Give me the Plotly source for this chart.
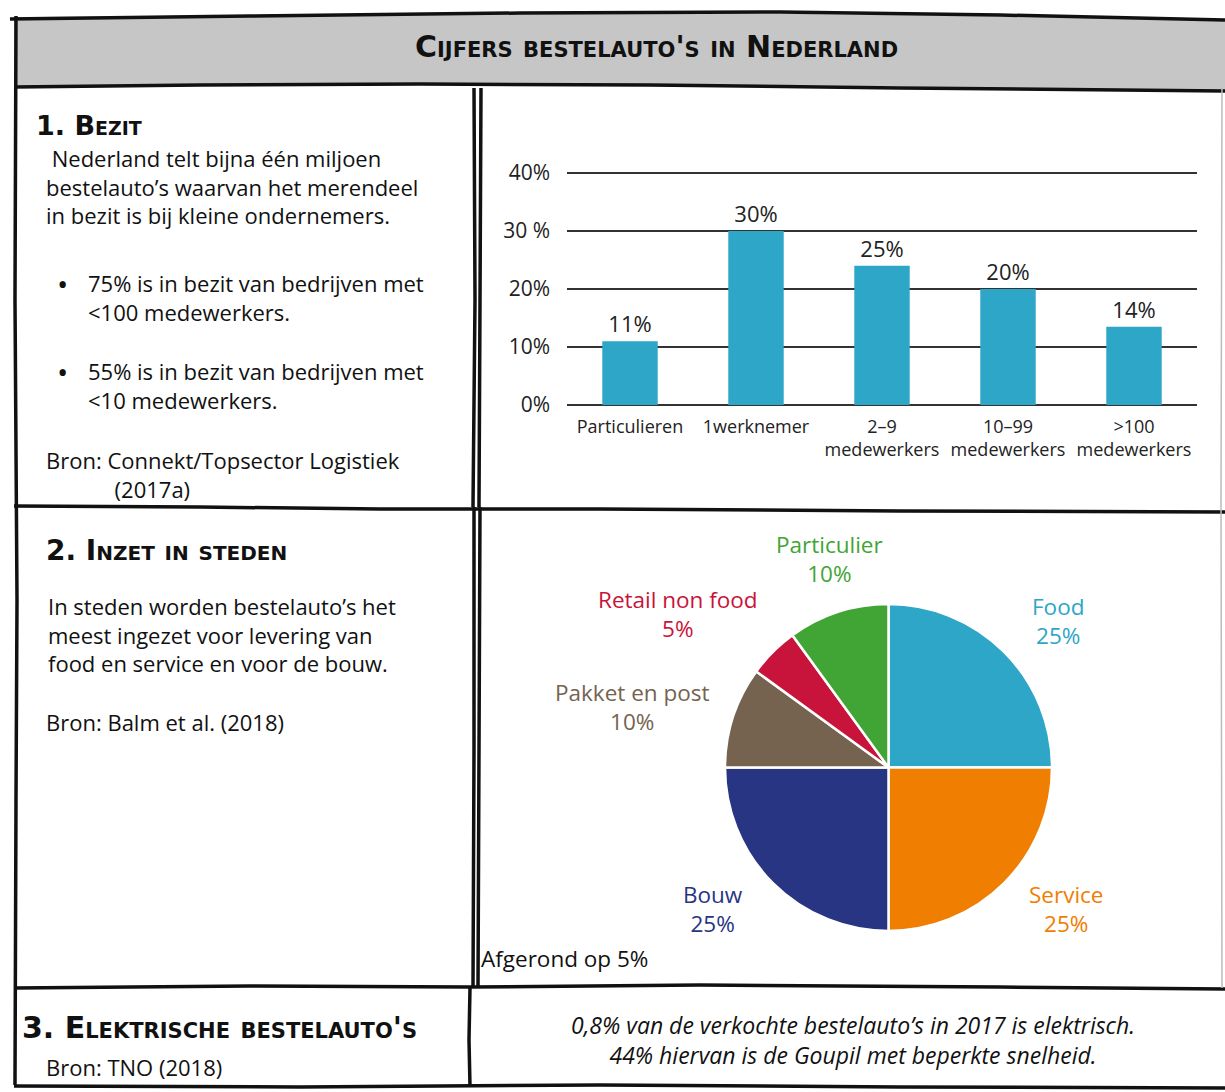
import plotly.graph_objects as go

W, H = 1225, 1092

# ---------------- data ----------------
bar_categories = ["Particulieren", "1werknemer", "2–9<br>medewerkers", "10–99<br>medewerkers", ">100<br>medewerkers"]
bar_values = [11, 30, 24, 20, 13.5]
bar_labels = ["11%", "30%", "25%", "20%", "14%"]
y_tickvals = [0, 10, 20, 30, 40]
y_ticktext = ["0%", "10%", "20%", "30 %", "40%"]

pie_labels = ["Food", "Service", "Bouw", "Pakket en post", "Retail non food", "Particulier"]
pie_values = [25, 25, 25, 10, 5, 10]
pie_colors = ["#2DA6C7", "#F07E00", "#283583", "#756350", "#C8133A", "#41A535"]

# ---------------- helpers (pixel -> paper) ----------------
def px(x):
    return x / W

def py(y):
    return 1 - y / H

def path(points):
    s = "M {:.5f},{:.5f}".format(px(points[0][0]), py(points[0][1]))
    for (x, y) in points[1:]:
        s += " L {:.5f},{:.5f}".format(px(x), py(y))
    return s

BODY = "Open Sans"
fig = go.Figure()

fig.add_trace(go.Bar(
    x=bar_categories, y=bar_values, text=bar_labels,
    textposition="outside", cliponaxis=False,
    textfont=dict(family=BODY, size=22, color="#222"),
    marker=dict(color="#2DA6C7", line=dict(width=0)),
    xaxis="x", yaxis="y", showlegend=False, hoverinfo="skip",
))

fig.add_trace(go.Pie(
    labels=pie_labels, values=pie_values, sort=False, direction="clockwise",
    rotation=0, textinfo="none", showlegend=False,
    marker=dict(colors=pie_colors, line=dict(color="white", width=2.5)),
    domain=dict(x=[px(725), px(1052)], y=[py(931), py(604)]),
))

shapes = []
# title bar fill
shapes.append(dict(type="path", xref="paper", yref="paper",
                   path=path([(14, 17), (300, 15), (600, 12), (900, 15), (1225, 19),
                              (1225, 90), (1000, 88), (700, 84), (400, 85), (14, 87)]) + " Z",
                   fillcolor="#C6C6C6", line=dict(width=0), layer="below"))

lines = [
    # title top and bottom
    [(10, 19), (250, 16), (520, 13), (780, 12), (1000, 15), (1225, 20)],
    [(14, 87), (200, 85), (420, 84), (650, 85), (900, 88), (1225, 91)],
    # left edge
    [(16, 16), (15, 300), (17, 600), (16, 800), (15, 1085)],
    # row dividers
    [(14, 506), (200, 507), (380, 509), (600, 509), (900, 511), (1225, 512)],
    [(14, 988), (250, 986), (470, 987), (700, 985), (1000, 987), (1225, 989)],
    # bottom
    [(14, 1086), (300, 1087), (600, 1085), (900, 1087), (1225, 1088)],
    # vertical dividers
    [(474, 88), (475, 300), (473, 507)],
    [(481, 88), (480, 300), (479, 507)],
    [(474, 507), (474, 750), (473, 988)],
    [(480, 507), (479, 750), (478, 988)],
    [(470, 988), (469, 1040), (470, 1086)],
]
for pts in lines:
    shapes.append(dict(type="path", xref="paper", yref="paper", path=path(pts),
                       line=dict(color="#111", width=3.5)))
shapes.append(dict(type="path", xref="paper", yref="paper",
                   path=path([(1222, 88), (1221, 500), (1222, 988)]),
                   line=dict(color="#BBBBBB", width=1.5)))

ann = []

def text(x, y, s, size=22, color="#111", family=BODY, xanchor="left", bold=False,
         italic=False, variant="normal", yanchor="middle"):
    if isinstance(s, (list, tuple)):
        s = "<br>".join(s)
    if bold:
        s = "<b>" + s + "</b>"
    if italic:
        s = "<i>" + s + "</i>"
    ann.append(dict(x=px(x), y=py(y), xref="paper", yref="paper", text=s, showarrow=False,
                    xanchor=xanchor, yanchor=yanchor, align=xanchor if xanchor != "center" else "center",
                    font=dict(family=family, size=size, color=color, variant=variant)))

HEAD = "DejaVu Sans"
text(656, 47, "Cijfers bestelauto's in Nederland", size=30, family=HEAD, xanchor="center",
     bold=True, variant="small-caps")

# section 1
text(34, 125, "1. Bezit", size=27, family=HEAD, bold=True, variant="small-caps")
text(44, 186.5, ["&nbsp;Nederland telt bijna één miljoen",
                 "bestelauto’s waarvan het merendeel",
                 "in bezit is bij kleine ondernemers."])
text(55, 284, "•", size=30)
text(86, 298, ["75% is in bezit van bedrijven met", "&lt;100 medewerkers."])
text(55, 371, "•", size=30)
text(86, 385.5, ["55% is in bezit van bedrijven met", "&lt;10 medewerkers."])
text(44, 474, ["Bron: Connekt/Topsector Logistiek", "&nbsp;" * 12 + "(2017a)"])

# section 2
text(44, 550, "2. Inzet in steden", size=28, family=HEAD, bold=True, variant="small-caps")
text(46, 634.5, ["In steden worden bestelauto’s het",
                 "meest ingezet voor levering van",
                 "food en service en voor de bouw."])
text(44, 722, "Bron: Balm et al. (2018)")
text(479, 958, "Afgerond op 5%", size=22.5)

# pie labels
pie_label_pos = {
    "Food": (1058, 621), "Service": (1066, 909), "Bouw": (713, 909),
    "Pakket en post": (632, 707), "Retail non food": (678, 614), "Particulier": (829, 559),
}
for lab, val, col in zip(pie_labels, pie_values, pie_colors):
    x, y = pie_label_pos[lab]
    text(x, y, [lab, f"{val}%"], size=22.5, color=col, xanchor="center")

# section 3
text(20, 1027, "3. Elektrische bestelauto's", size=30, family=HEAD, bold=True, variant="small-caps")
text(44, 1067, "Bron: TNO (2018)")
text(853, 1039.5, ["0,8% van de verkochte bestelauto’s in 2017 is elektrisch.",
                   "44% hiervan is de Goupil met beperkte snelheid."],
     size=23, xanchor="center", italic=True)

fig.update_layout(
    width=W, height=H, margin=dict(l=0, r=0, t=0, b=0, autoexpand=False),
    paper_bgcolor="white", plot_bgcolor="white",
    shapes=shapes, annotations=ann, bargap=0.56,
    xaxis=dict(domain=[px(567), px(1197)], showgrid=False, zeroline=False, showline=False,
               automargin=False, ticks="", ticklabelstandoff=9,
               tickfont=dict(family=BODY, size=18, color="#222"), fixedrange=True),
    yaxis=dict(domain=[py(405), py(167.2)], range=[0, 41], tickvals=y_tickvals,
               ticktext=y_ticktext, automargin=False,
               showgrid=True, gridcolor="#333", gridwidth=1.8, zeroline=True, zerolinecolor="#333",
               zerolinewidth=1.8, showline=False, ticks="", ticklabelstandoff=16,
               tickfont=dict(family=BODY, size=21, color="#222"), fixedrange=True),
)

fig.write_html("out.html", config={"displayModeBar": False},
               post_script="document.body.style.margin='0';")
